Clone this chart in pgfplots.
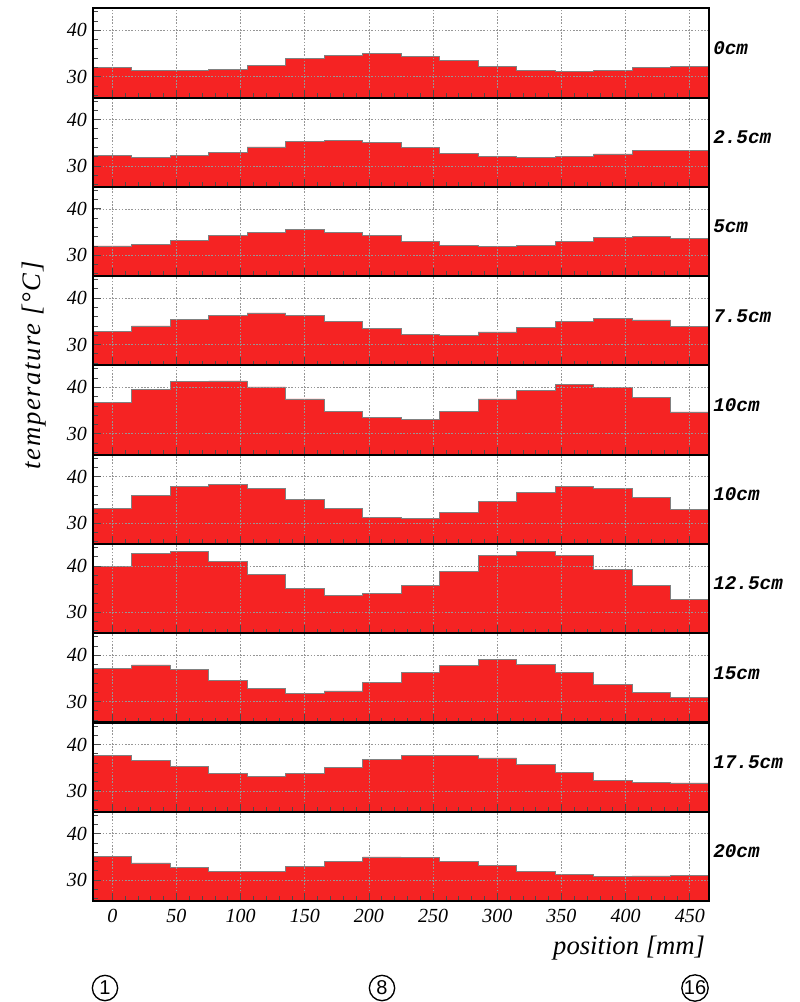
\documentclass[border=0pt]{standalone}
\usepackage{fontspec}
\setmainfont{Liberation Serif}
\newfontfamily\cour{Liberation Mono}
\newfontfamily\sans{Liberation Sans}
\usepackage{pgfplots}
\pgfplotsset{compat=1.18}
\usepackage{pgfplotstable}
\definecolor{histred}{RGB}{245,35,35}
\definecolor{gridgray}{RGB}{150,150,150}

\pgfplotstableread{
x    p1   p2   p3   p4   p5   p6   p7   p8   p9   p10
-15  31.9 32.2 32.0 32.9 36.8 33.1 39.9 37.1 37.6 35.2
15   31.4 31.8 32.4 34.0 39.6 36.0 42.7 37.9 36.6 33.7
45   31.4 32.2 33.2 35.4 41.3 37.9 43.1 36.9 35.3 32.7
75   31.6 33.0 34.2 36.3 41.4 38.4 41.0 34.6 33.8 31.9
105  32.5 34.1 35.0 36.8 40.1 37.5 38.1 32.8 33.1 31.9
135  34.0 35.3 35.5 36.2 37.5 35.0 35.1 31.8 33.8 33.0
165  34.6 35.5 35.0 34.9 34.8 33.1 33.6 32.3 35.0 34.0
195  35.0 35.1 34.2 33.5 33.5 31.2 34.0 34.2 36.8 35.0
225  34.4 34.0 32.9 32.2 33.1 30.9 35.8 36.2 37.6 34.8
255  33.5 32.7 32.1 32.0 34.8 32.2 38.9 37.8 37.6 34.0
285  32.2 32.0 31.9 32.7 37.5 34.6 42.2 39.0 37.1 33.2
315  31.4 31.8 32.1 33.7 39.4 36.6 43.1 38.1 35.6 31.9
345  31.2 32.0 33.0 35.0 40.7 37.8 42.2 36.2 34.0 31.2
375  31.3 32.6 33.8 35.6 40.0 37.4 39.2 33.7 32.3 30.7
405  32.0 33.3 34.1 35.3 37.8 35.6 35.8 31.9 31.9 30.9
435  32.2 33.3 33.6 33.9 34.7 32.9 32.7 30.9 31.7 31.0
465  32.2 33.3 33.6 33.9 34.7 32.9 32.7 30.9 31.7 31.0
}\data

\pgfplotsset{
  panel/.style={
    width=462pt, height=66.95pt, scale only axis, anchor=north west,
    xmin=-15, xmax=465, ymin=25.5, ymax=44.75,
    xtick={0,50,...,450}, minor x tick num=4,
    ytick={30,40}, minor ytick={26,28,32,34,36,38,42,44},
    tick align=inside, xtick pos=bottom, ytick pos=left,
    xmajorgrids, ymajorgrids,
    major grid style={gridgray, dash pattern=on 1.2pt off 1.2pt, line width=0.45pt},
    axis line style={line width=1.6pt, black},
    every tick/.style={black!70, line width=0.6pt},
    major tick length=6pt, minor tick length=3.5pt,
    /pgf/number format/assume math mode=true,
    yticklabel style={font=\fontsize{15}{15}\selectfont\itshape, xshift=-1pt},
    xticklabel style={font=\fontsize{15}{15}\selectfont\itshape, yshift=-3pt},
    axis on top, clip mode=individual,
  },
  nox/.style={xticklabels={}},
  hist/.style={const plot, fill=histred, draw=gray, line width=0.6pt},
}
\newcommand{\plab}[1]{\node[anchor=west, inner sep=0pt, xshift=3pt, yshift=3.75pt,
  font=\cour\bfseries\itshape\fontsize{14.5}{14.5}\selectfont] at (rel axis cs:1,0.5) {#1};}

\begin{document}
\begin{tikzpicture}
\path[use as bounding box] (0,0) rectangle (599.25pt,-751.5pt);

\begin{axis}[panel, nox, at={(69.75pt,-6.23pt)}]
\addplot[hist] table[x=x,y=p1]{\data} \closedcycle;
\plab{0cm}
\end{axis}
\begin{axis}[panel, nox, at={(69.75pt,-73.18pt)}]
\addplot[hist] table[x=x,y=p2]{\data} \closedcycle;
\plab{2.5cm}
\end{axis}
\begin{axis}[panel, nox, at={(69.75pt,-140.13pt)}]
\addplot[hist] table[x=x,y=p3]{\data} \closedcycle;
\plab{5cm}
\end{axis}
\begin{axis}[panel, nox, at={(69.75pt,-207.08pt)}]
\addplot[hist] table[x=x,y=p4]{\data} \closedcycle;
\plab{7.5cm}
\end{axis}
\begin{axis}[panel, nox, at={(69.75pt,-274.03pt)}]
\addplot[hist] table[x=x,y=p5]{\data} \closedcycle;
\plab{10cm}
\end{axis}
\begin{axis}[panel, nox, at={(69.75pt,-340.98pt)}]
\addplot[hist] table[x=x,y=p6]{\data} \closedcycle;
\plab{10cm}
\end{axis}
\begin{axis}[panel, nox, at={(69.75pt,-407.93pt)}]
\addplot[hist] table[x=x,y=p7]{\data} \closedcycle;
\plab{12.5cm}
\end{axis}
\begin{axis}[panel, nox, at={(69.75pt,-474.88pt)}]
\addplot[hist] table[x=x,y=p8]{\data} \closedcycle;
\plab{15cm}
\end{axis}
\begin{axis}[panel, nox, at={(69.75pt,-541.83pt)}]
\addplot[hist] table[x=x,y=p9]{\data} \closedcycle;
\plab{17.5cm}
\end{axis}
\begin{axis}[panel, at={(69.75pt,-608.78pt)}]
\addplot[hist] table[x=x,y=p10]{\data} \closedcycle;
\plab{20cm}
\end{axis}

\node[rotate=90, inner sep=0pt, font=\fontsize{20}{20}\selectfont\itshape\addfontfeature{LetterSpace=6}] at (25.5pt,-274pt) {temperature [°C]};
\node[anchor=east, inner sep=0pt, font=\fontsize{20}{20}\selectfont\itshape] at (529pt,-711pt) {position [mm]};

\foreach \xx/\nn in {78.75/1, 286.5/8, 521.25/16}{
  \node[circle, draw, line width=1pt, minimum size=19pt, inner sep=0pt,
        font=\sans\fontsize{15}{15}\selectfont] at (\xx pt,-741pt) {\nn};
}
\end{tikzpicture}
\end{document}
